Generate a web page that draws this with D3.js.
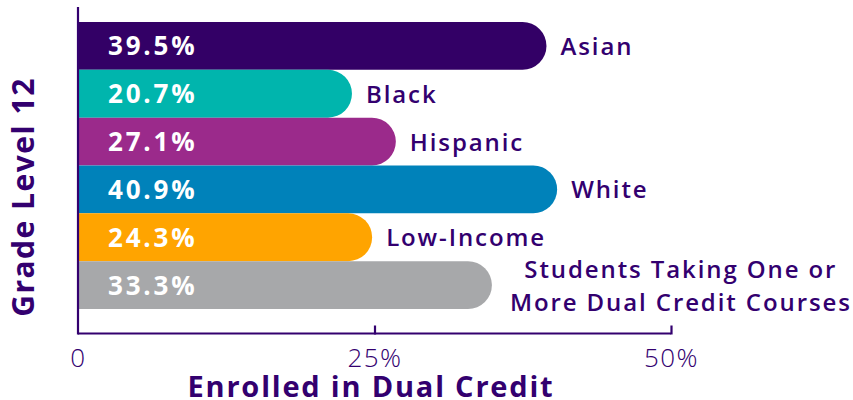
<!DOCTYPE html>
<html>
<head>
<meta charset="utf-8">
<script src="https://cdn.jsdelivr.net/npm/d3@7"></script>
<style>
  html, body { margin: 0; padding: 0; background: #fff; }
  svg { display: block; }
  text { font-family: "Open Sans", "Noto Sans", sans-serif; }
</style>
</head>
<body>
<svg id="chart" width="853" height="400"></svg>
<script>
// ---- data ----
const categories = ["Asian", "Black", "Hispanic", "White", "Low-Income", "Students Taking One or|More Dual Credit Courses"];
const valueLabels = ["39.5%", "20.7%", "27.1%", "40.9%", "24.3%", "33.3%"];
// drawn bar lengths, in percent, as measured on the picture
const barLengths = [39.5, 23.1, 26.8, 40.4, 24.8, 34.9];
const colors = ["#330066", "#00b5ad", "#9b2a8b", "#0082ba", "#ffa400", "#a7a8aa"];
const tickValues = [0, 25, 50];
const tickLabels = ["0", "25%", "50%"];
const xTitle = "Enrolled in Dual Credit";
const yTitle = "Grade Level 12";

const ink = "#33006f";
const svg = d3.select("#chart");

const x = d3.scaleLinear().domain([0, 50]).range([78, 671]);
const y = d3.scaleBand().domain(categories).range([22, 309]).padding(0);

// bars: flat left, rounded right
function barPath(d, i) {
  const x0 = x(0) + 1, x1 = x(barLengths[i]);
  const y0 = y(d), h = y.bandwidth(), r = h / 2;
  return `M${x0},${y0} H${x1 - r} A${r},${r} 0 0 1 ${x1},${y0 + r} A${r},${r} 0 0 1 ${x1 - r},${y0 + h} H${x0} Z`;
}
svg.append("g").selectAll("path").data(categories).join("path")
  .attr("d", barPath)
  .attr("fill", (d, i) => colors[i]);

// value labels inside bars
svg.append("g").selectAll("text").data(categories).join("text")
  .attr("x", x(0) + 30)
  .attr("y", d => y(d) + y.bandwidth() / 2 + 9.5)
  .attr("fill", "#fff")
  .attr("font-size", 26)
  .attr("font-weight", 700)
  .attr("letter-spacing", 2.8)
  .text((d, i) => valueLabels[i]);

// category labels
const catG = svg.append("g");
categories.forEach((c, i) => {
  const lines = c.split("|");
  const cy = y(c) + y.bandwidth() / 2;
  const t = catG.append("text")
    .attr("fill", ink)
    .attr("font-size", 24)
    .attr("font-weight", 600)
    .attr("letter-spacing", 1.9);
  if (lines.length === 1) {
    t.attr("x", x(barLengths[i]) + 14).attr("y", cy + 9).text(c);
  } else {
    const spans = lines.map((l, k) => t.append("tspan").attr("y", cy + 9 + (k - 0.5) * 33).text(l));
    const w = d3.max(spans, s => s.node().getComputedTextLength());
    const cx = x(barLengths[i]) + 18 + w / 2;
    spans.forEach(s => s.attr("x", cx).attr("text-anchor", "middle"));
  }
});

// axes
const axisY = 333.5;
svg.append("line")
  .attr("x1", x(0)).attr("x2", x(0)).attr("y1", 7).attr("y2", axisY + 1)
  .attr("stroke", ink).attr("stroke-width", 2.2);
const xAxis = d3.axisBottom(x).tickValues(tickValues).tickSize(0).tickFormat((d, i) => tickLabels[i]);
const gx = svg.append("g").attr("transform", `translate(0,${axisY})`).call(xAxis);
gx.select(".domain").attr("stroke", ink).attr("stroke-width", 2.2).attr("d", `M${x(0)},0H${x(50)}`);
gx.selectAll(".tick text")
  .attr("fill", ink).attr("font-size", 26).attr("font-weight", 300)
  .attr("font-family", "'Open Sans', sans-serif")
  .attr("letter-spacing", 1.5)
  .attr("dy", 0).attr("y", 33.5);
gx.selectAll(".tick").filter(d => d > 0).append("line")
  .attr("y1", 1).attr("y2", -8).attr("stroke", ink).attr("stroke-width", 2.2);

// titles
svg.append("text")
  .attr("x", 371).attr("y", 397)
  .attr("text-anchor", "middle")
  .attr("fill", ink).attr("font-size", 29).attr("font-weight", 700)
  .attr("letter-spacing", 1.8)
  .text(xTitle);
svg.append("text")
  .attr("transform", "translate(34,197) rotate(-90)")
  .attr("text-anchor", "middle")
  .attr("fill", ink).attr("font-size", 30).attr("font-weight", 700)
  .attr("letter-spacing", 1.5)
  .text(yTitle);
</script>
</body>
</html>
